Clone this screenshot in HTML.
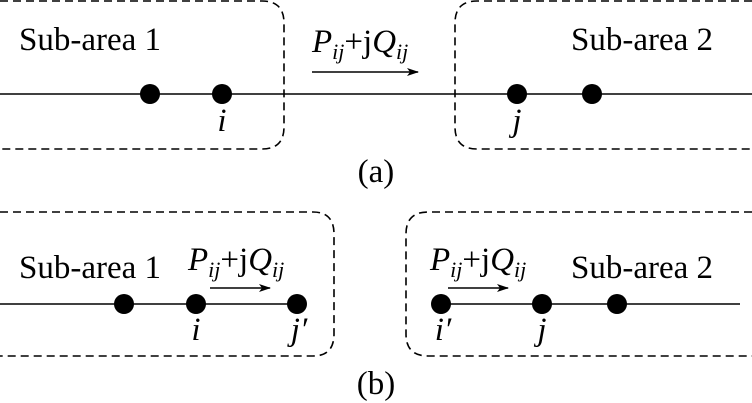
<!DOCTYPE html>
<html><head><style>body{margin:0;background:#fff}svg{display:block}text{font-family:"Liberation Serif",serif}</style></head><body>
<svg width="752" height="403" viewBox="0 0 752 403" xmlns="http://www.w3.org/2000/svg" fill="#000">
<defs><marker id="ah" markerWidth="12" markerHeight="8" refX="11" refY="4" orient="auto" markerUnits="userSpaceOnUse"><path d="M0,0 L12,4 L0,8 L3,4z"/></marker></defs>
<g fill="none" stroke="#000" stroke-width="1.6" stroke-dasharray="8,5">
<path d="M0,1 H262 Q284,1 284,23 V127 Q284,149 262,149 H0"/>
<path d="M752,1 H477 Q455,1 455,23 V127 Q455,149 477,149 H752"/>
<path d="M0,212 H313 Q334,212 334,234 V334 Q334,356 313,356 H0"/>
<path d="M752,212 H428 Q406,212 406,234 V334 Q406,356 428,356 H752"/>
</g>
<g stroke="#000" stroke-width="1.5">
<line x1="0" y1="94" x2="752" y2="94"/>
<line x1="0" y1="304" x2="297" y2="304"/>
<line x1="441" y1="304" x2="740" y2="304"/>
<line x1="312" y1="72" x2="418" y2="72" marker-end="url(#ah)"/>
<line x1="210" y1="288" x2="270" y2="288" marker-end="url(#ah)"/>
<line x1="448" y1="288" x2="508" y2="288" marker-end="url(#ah)"/>
</g>
<g>
<circle cx="150" cy="94" r="10"/><circle cx="222" cy="94" r="10"/><circle cx="517" cy="94" r="10"/><circle cx="592" cy="94" r="10"/>
<circle cx="124" cy="304" r="10"/><circle cx="196" cy="304" r="10"/><circle cx="297" cy="304" r="10"/>
<circle cx="441" cy="304" r="10"/><circle cx="542" cy="304" r="10"/><circle cx="617" cy="304" r="10"/>
</g>
<g font-size="33">
<text x="19" y="50">Sub-area 1</text>
<text x="571" y="50">Sub-area 2</text>
<text x="19" y="278">Sub-area 1</text>
<text x="571" y="278">Sub-area 2</text>
<text x="312" y="52"><tspan font-style="italic">P</tspan><tspan font-style="italic" font-size="22" dy="7">ij</tspan><tspan dy="-7">+j</tspan><tspan font-style="italic">Q</tspan><tspan font-style="italic" font-size="22" dy="7">ij</tspan></text>
<text x="188" y="270"><tspan font-style="italic">P</tspan><tspan font-style="italic" font-size="22" dy="7">ij</tspan><tspan dy="-7">+j</tspan><tspan font-style="italic">Q</tspan><tspan font-style="italic" font-size="22" dy="7">ij</tspan></text>
<text x="430" y="270"><tspan font-style="italic">P</tspan><tspan font-style="italic" font-size="22" dy="7">ij</tspan><tspan dy="-7">+j</tspan><tspan font-style="italic">Q</tspan><tspan font-style="italic" font-size="22" dy="7">ij</tspan></text>
<g font-style="italic" text-anchor="middle">
<text x="222" y="131">i</text><text x="517" y="131">j</text>
<text x="196" y="340">i</text><text x="299" y="340">j′</text>
<text x="443" y="340">i′</text><text x="542" y="340">j</text>
</g>
<text x="376" y="182" text-anchor="middle">(a)</text>
<text x="376" y="394" text-anchor="middle">(b)</text>
</g>
</svg>
</body></html>
